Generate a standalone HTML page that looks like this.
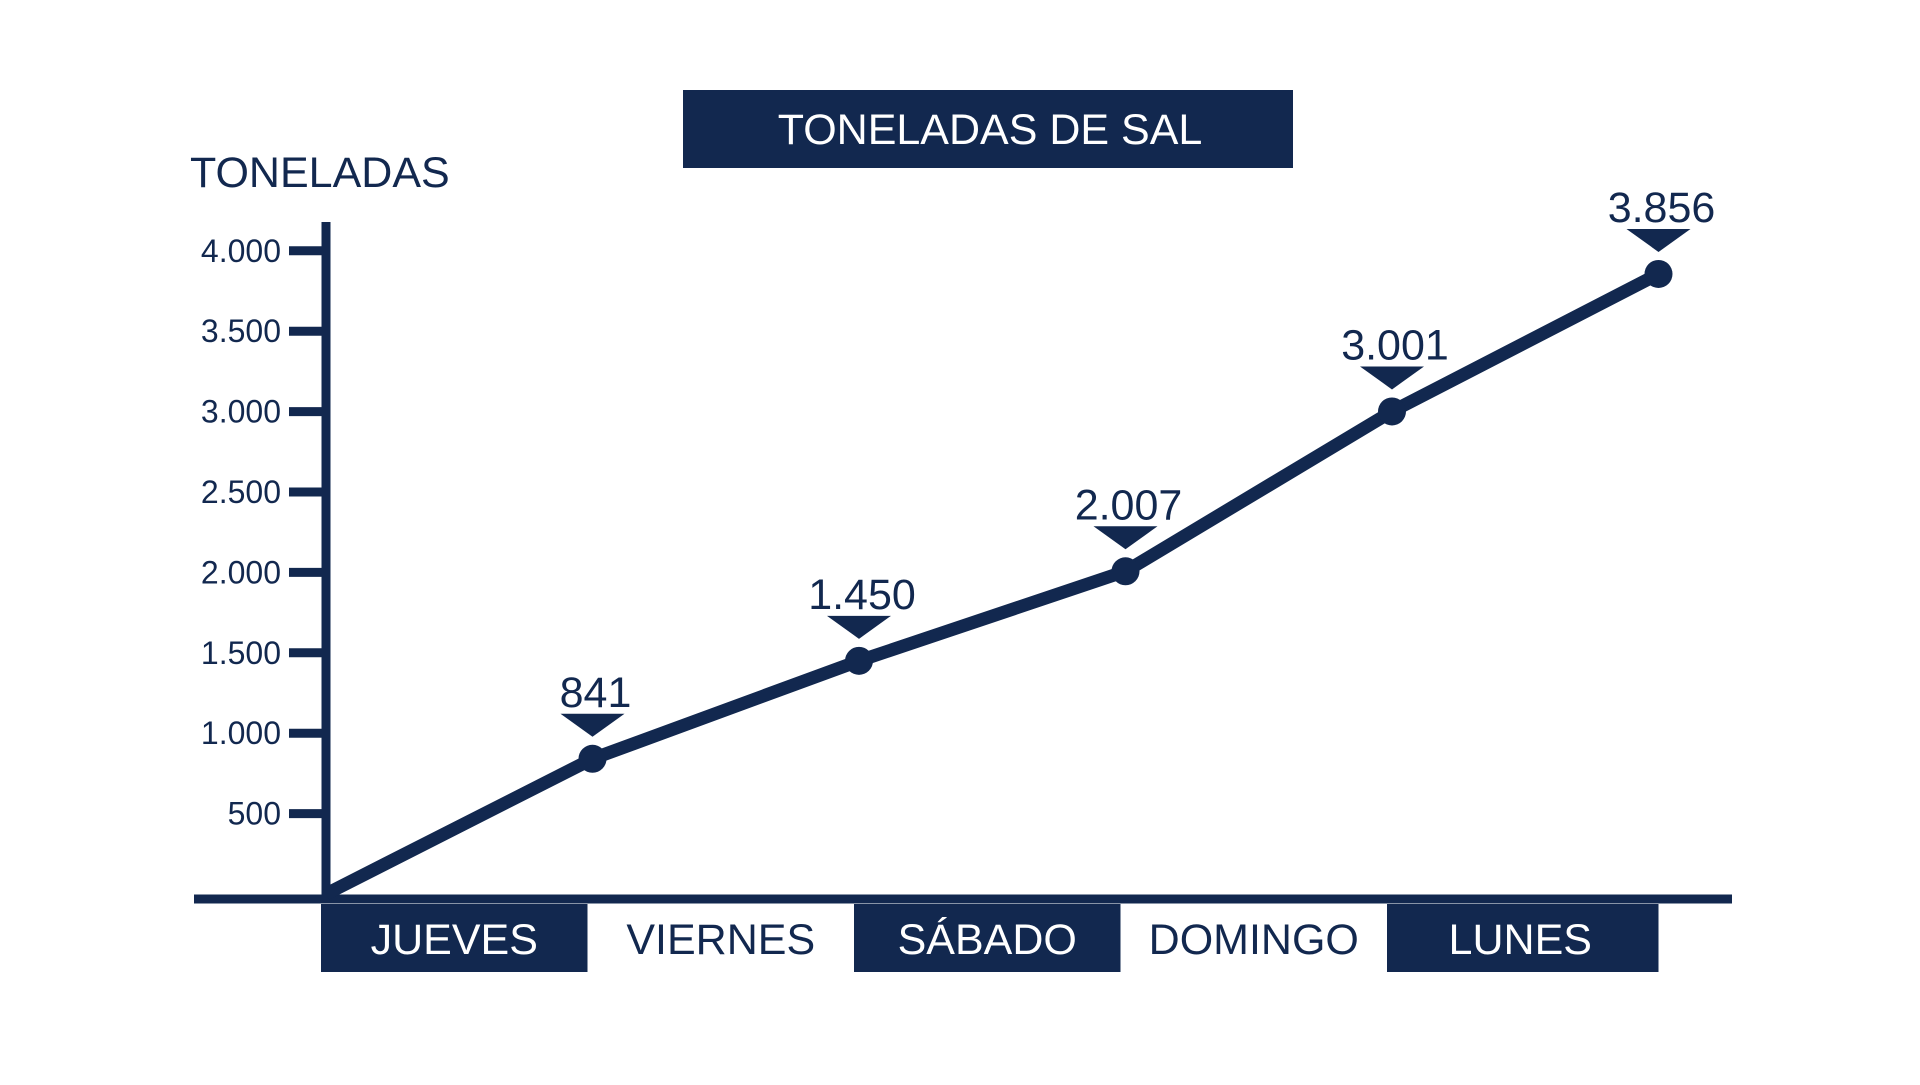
<!DOCTYPE html>
<html><head><meta charset="utf-8"><style>
body{margin:0;background:#fff;width:1920px;height:1080px;overflow:hidden}
text{font-family:"Liberation Sans",sans-serif}
</style></head><body>
<svg id="c" width="1920" height="1080" xmlns="http://www.w3.org/2000/svg">
<rect x="683" y="90" width="610" height="78" fill="#12284f"/>
<text x="990" y="144" text-anchor="middle" font-size="43" fill="#fff">TONELADAS DE SAL</text>
<text x="190" y="187" font-size="43" fill="#12284f">TONELADAS</text>
<g id="ticks"></g><g id="cats"></g>
<line x1="326" y1="222" x2="326" y2="902" stroke="#12284f" stroke-width="9"/>
<line x1="194" y1="899" x2="1732" y2="899" stroke="#12284f" stroke-width="9"/>
<g id="series"></g>
</svg>
<script>
const categories=["JUEVES","VIERNES","SÁBADO","DOMINGO","LUNES"];
const values=[841,1450,2007,3001,3856];
const labels=["841","1.450","2.007","3.001","3.856"];
const tickValues=[500,1000,1500,2000,2500,3000,3500,4000];
const tickLabels=["500","1.000","1.500","2.000","2.500","3.000","3.500","4.000"];
const NS="http://www.w3.org/2000/svg",C="#12284f";
const x0=326,step=266.5,y0=894,k=0.1608;
const xs=i=>x0+step*(i+1), ys=v=>y0-v*k;
function mk(t,a,p){const e=document.createElementNS(NS,t);for(const n in a)e.setAttribute(n,a[n]);p.appendChild(e);return e;}
const T=document.getElementById('ticks');
tickValues.forEach((v,i)=>{
 const l=mk('line',{x1:289,x2:324,y1:ys(v),y2:ys(v),stroke:C,'stroke-width':9},T);
 
 
 const t=mk('text',{x:281,y:ys(v)+11,'text-anchor':'end','font-size':32,fill:C},T);
 t.textContent=tickLabels[i];
 
 
});
const K=document.getElementById('cats');
categories.forEach((c,i)=>{
 const dark=i%2===0;
 const r=mk('rect',{x:xs(i)-step-5,y:904,width:step+5,height:68,fill:dark?C:'#fff'},K);
 
 
 const t=mk('text',{x:xs(i)-step/2-5,y:954,'text-anchor':'middle','font-size':43,fill:dark?'#fff':C},K);
 t.textContent=c;
 
 
});
const S=document.getElementById('series');
let d='M'+x0+' '+ys(0);values.forEach((v,i)=>d+=' L'+xs(i)+' '+ys(v));
const p=mk('path',{d:d,fill:'none',stroke:C,'stroke-width':13,'stroke-linejoin':'round'},S);


values.forEach((v,i)=>{
 const x=xs(i),y=ys(v);
 const c=mk('circle',{cx:x,cy:y,r:14,fill:C},S);
 
 
 const g=mk('polygon',{points:(x-32)+','+(y-45)+' '+(x+32)+','+(y-45)+' '+x+','+(y-22),fill:C},S);
 
 
 const t=mk('text',{x:x+3,y:y-52,'text-anchor':'middle','font-size':43,fill:C},S);
 t.textContent=labels[i];
 
 
});
</script>
</body></html>
